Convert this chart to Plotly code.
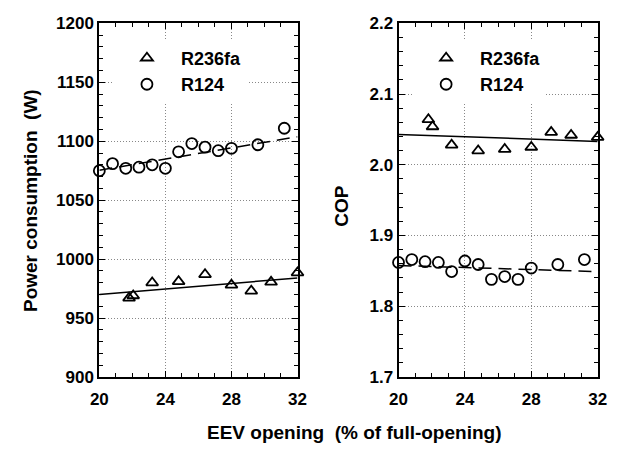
import plotly.graph_objects as go

# EEV opening (% of full-opening) for each test point
eev_r124 = [20.0, 20.8, 21.6, 22.4, 23.2, 24.0, 24.8, 25.6, 26.4, 27.2, 28.0, 29.6, 31.2]
eev_r236fa = [21.8, 22.05, 23.2, 24.8, 26.4, 28.0, 29.2, 30.4, 32.0]

# Power consumption (W)
power_r124 = [1075, 1081, 1077, 1078, 1080, 1077, 1091, 1098, 1095, 1092, 1094, 1097, 1111]
power_r236fa = [967, 969, 980, 981, 987, 978, 973, 980.5, 988.5]

# Coefficient of performance
cop_r124 = [1.862, 1.866, 1.863, 1.862, 1.849, 1.864, 1.859, 1.838, 1.842, 1.838, 1.854, 1.859, 1.866]
cop_r236fa = [2.064, 2.054, 2.028, 2.020, 2.022, 2.025, 2.046, 2.042, 2.039]

# Trend lines (end values over the opening range)
trend_x = [20, 32]
power_r124_trend = [1075.4, 1103.8]
power_r236fa_trend = [970, 984]
cop_r124_trend = [1.8576, 1.849]
cop_r236fa_trend = [2.043, 2.033]

FONT = "Liberation Sans, Arial, sans-serif"
BLACK = "#000000"

tri = dict(symbol="triangle-up-open", size=10.5, color=BLACK, line=dict(width=1.8, color=BLACK))
circ = dict(symbol="circle-open", size=11, color=BLACK, line=dict(width=1.8, color=BLACK))

fig = go.Figure()

# Left panel: power consumption
fig.add_trace(go.Scatter(x=trend_x, y=power_r236fa_trend, mode="lines", line=dict(color=BLACK, width=1.5),
                         showlegend=False, xaxis="x", yaxis="y"))
fig.add_trace(go.Scatter(x=trend_x, y=power_r124_trend, mode="lines",
                         line=dict(color=BLACK, width=1.5, dash="13px,7px"),
                         showlegend=False, xaxis="x", yaxis="y"))
fig.add_trace(go.Scatter(x=eev_r236fa, y=power_r236fa, mode="markers", marker=tri, name="R236fa",
                         cliponaxis=False, xaxis="x", yaxis="y", legend="legend"))
fig.add_trace(go.Scatter(x=eev_r124, y=power_r124, mode="markers", marker=circ, name="R124",
                         cliponaxis=False, xaxis="x", yaxis="y", legend="legend"))

# Right panel: COP
fig.add_trace(go.Scatter(x=trend_x, y=cop_r236fa_trend, mode="lines", line=dict(color=BLACK, width=1.5),
                         showlegend=False, xaxis="x2", yaxis="y2"))
fig.add_trace(go.Scatter(x=trend_x, y=cop_r124_trend, mode="lines",
                         line=dict(color=BLACK, width=1.5, dash="13px,7px"),
                         showlegend=False, xaxis="x2", yaxis="y2"))
fig.add_trace(go.Scatter(x=eev_r236fa, y=cop_r236fa, mode="markers", marker=tri, name="R236fa",
                         cliponaxis=False, xaxis="x2", yaxis="y2", legend="legend2"))
fig.add_trace(go.Scatter(x=eev_r124, y=cop_r124, mode="markers", marker=circ, name="R124",
                         cliponaxis=False, xaxis="x2", yaxis="y2", legend="legend2"))

W, H = 629, 455
ydom = [1 - 384 / H, 1 - 15 / H]

common_axis = dict(
    showline=True, linecolor=BLACK, linewidth=2, mirror="allticks",
    ticks="inside", ticklen=6, tickwidth=1.2, tickcolor=BLACK,
    showgrid=True, gridcolor="#888888", gridwidth=1, griddash="1px,2px",
    zeroline=False,
    tickfont=dict(family=FONT, size=17, color=BLACK, weight="bold"),
)

xaxis_common = dict(common_axis, range=[20, 32], tickvals=[20, 24, 28, 32],
                    minor=dict(dtick=1, ticks="inside", ticklen=4, tickwidth=1.2, tickcolor=BLACK, showgrid=False),
                    ticklabelstandoff=6)

fig.update_layout(
    width=W, height=H,
    margin=dict(l=0, r=0, t=0, b=0),
    paper_bgcolor="white", plot_bgcolor="white",
    font=dict(family=FONT, color=BLACK),
    xaxis=dict(xaxis_common, domain=[93 / W, 297 / W], anchor="y"),
    yaxis=dict(common_axis, domain=ydom, anchor="x", range=[900, 1200], dtick=50, tick0=900,
               minor=dict(dtick=10, ticks="inside", ticklen=4, tickwidth=1.2, tickcolor=BLACK, showgrid=False)),
    xaxis2=dict(xaxis_common, domain=[401 / W, 606 / W], anchor="y2"),
    yaxis2=dict(common_axis, domain=ydom, anchor="x2", range=[1.7, 2.2], dtick=0.1, tick0=1.7,
                tickformat=".1f",
                minor=dict(dtick=0.02, ticks="inside", ticklen=4, tickwidth=1.2, tickcolor=BLACK, showgrid=False)),
    legend=dict(x=107 / W, y=1 - 32 / H, xanchor="left", yanchor="top", bgcolor="white",
                itemwidth=58, tracegroupgap=0,
                font=dict(family=FONT, size=18, color=BLACK, weight="bold")),
    legend2=dict(x=415 / W, y=1 - 32 / H, xanchor="left", yanchor="top", bgcolor="white",
                 itemwidth=58, tracegroupgap=0,
                 font=dict(family=FONT, size=18, color=BLACK, weight="bold")),
    annotations=[
        dict(text="Power consumption  (W)", x=22 / W, y=1 - 200 / H, xref="paper", yref="paper",
             textangle=-90, showarrow=False, xanchor="center", yanchor="middle",
             font=dict(family=FONT, size=19, color=BLACK, weight="bold")),
        dict(text="COP", x=342 / W, y=1 - 205 / H, xref="paper", yref="paper",
             textangle=-90, showarrow=False, xanchor="center", yanchor="middle",
             font=dict(family=FONT, size=19, color=BLACK, weight="bold")),
        dict(text="EEV opening  (% of full-opening)", x=355 / W, y=1 - 442 / H, xref="paper", yref="paper",
             showarrow=False, xanchor="center", yanchor="middle",
             font=dict(family=FONT, size=19, color=BLACK, weight="bold")),
    ],
)

fig.write_html("out.html")
